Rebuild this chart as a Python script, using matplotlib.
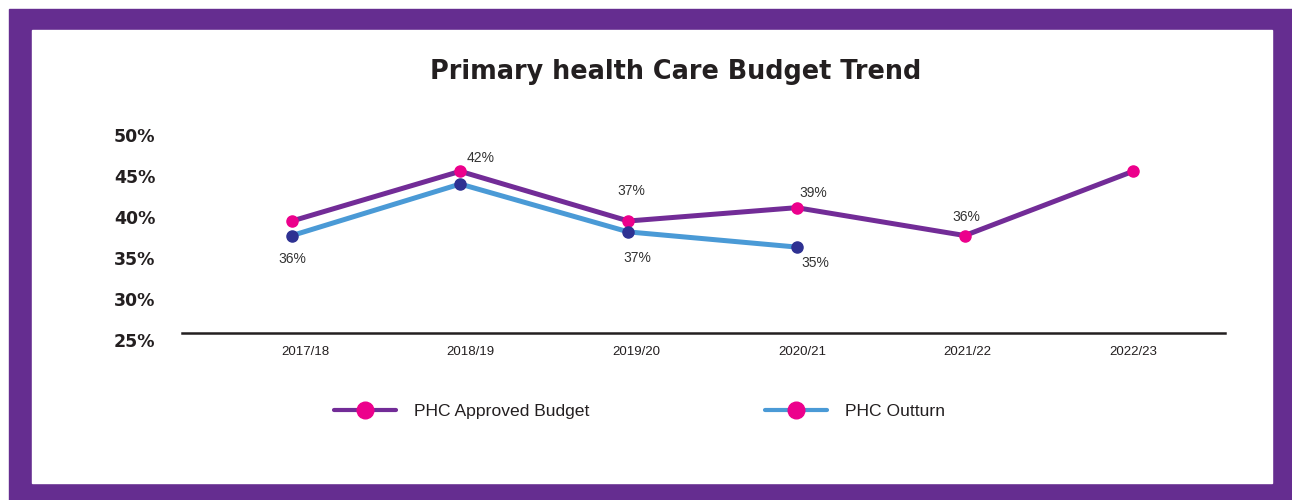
import matplotlib
matplotlib.use("Agg")
import matplotlib.pyplot as plt
from matplotlib.patches import Rectangle
from matplotlib.lines import Line2D

plt.rcParams['font.family'] = ['Liberation Sans', 'DejaVu Sans']

years = ['2017/18', '2018/19', '2019/20', '2020/21', '2021/22', '2022/23']
approved = [37.45, 41.55, 37.45, 38.55, 36.25, 41.55]
outturn = [36.25, 40.5, 36.55, 35.3]
scale_ticks = [25, 30, 35, 40, 45, 50]

# which points carry a value label, and where it sits (pixels offset)
approved_labels = {1: (20, 13), 2: (3, 30), 3: (17, 15), 4: (2, 19)}
outturn_labels = {0: (0, -23), 2: (9, -26), 3: (19, -16)}

PURPLE = '#652d90'
LINE_A = '#722c97'
LINE_O = '#4a9ad6'
PINK = '#ec008c'
NAVY = '#2e3192'
INK = '#231f20'

W, H = 1292, 500
fig = plt.figure(figsize=(W / 100, H / 100), dpi=100)

# frame
fig.patches.append(Rectangle((9 / W, 0), 1 - 9 / W, (H - 9) / H,
                             transform=fig.transFigure, color=PURPLE, zorder=-2))
fig.patches.append(Rectangle((32 / W, (H - 483) / H), (1272 - 32) / W, (483 - 30) / H,
                             transform=fig.transFigure, color='white', zorder=-1))

left, right = 182 / W, 1225 / W
ax = fig.add_axes([left, (H - 332.7) / H, right - left, (332.7 - 120) / H])
ax.patch.set_visible(False)
x = list(range(len(years)))
ax.plot(x, approved, color=LINE_A, lw=3.6, marker='o', ms=8,
        mfc=PINK, mec=PINK, solid_capstyle='round', zorder=3)
ax.plot(x[:len(outturn)], outturn, color=LINE_O, lw=3.6, marker='o', ms=8,
        mfc=NAVY, mec=NAVY, solid_capstyle='round', zorder=3)

for i, (dx, dy) in approved_labels.items():
    ax.annotate(f'{approved[i]:.0f}%', (i, approved[i]), xytext=(dx * 0.72, dy * 0.72),
                textcoords='offset points', ha='center', va='center',
                fontsize=10, color='#333333')
for i, (dx, dy) in outturn_labels.items():
    ax.annotate(f'{outturn[i]:.0f}%', (i, outturn[i]), xytext=(dx * 0.72, dy * 0.72),
                textcoords='offset points', ha='center', va='center',
                fontsize=10, color='#333333')

ax.set_xlim((182 - 292) / 168.2, (1225 - 292) / 168.2)
ax.set_ylim(37.45 - (332.7 - 221) / 12.12, 37.45 + (221 - 120) / 12.12)
ax.set_xticks([])
ax.set_yticks([])
for s in ['top', 'right', 'left']:
    ax.spines[s].set_visible(False)
ax.spines['bottom'].set_color(INK)
ax.spines['bottom'].set_linewidth(1.8)

# percentage scale and year labels
sc = fig.add_axes([left, (H - 340) / H, right - left, (340 - 135) / H])
sc.set_frame_on(False)
sc.patch.set_visible(False)
sc.set_ylim(25, 50)
sc.set_yticks(scale_ticks)
sc.set_yticklabels([f'{t}%' for t in scale_ticks], fontsize=12.5,
                   fontweight='bold', family='DejaVu Sans', color=INK)
sc.tick_params(axis='y', length=0, pad=19)
sc.set_xlim((182 - 305) / 165.7, (1225 - 305) / 165.7)
sc.set_xticks(x)
sc.set_xticklabels(years, fontsize=9.5, color=INK)
sc.tick_params(axis='x', length=0, pad=4)

fig.text(676 / W, (H - 72) / H, 'Primary health Care Budget Trend',
         ha='center', va='center', fontsize=18.4, fontweight='bold',
         family='DejaVu Sans', color=INK)

handles = [
    Line2D([], [], color=LINE_A, lw=3, marker='o', ms=12, mfc=PINK, mec=PINK,
           solid_capstyle='round'),
    Line2D([], [], color=LINE_O, lw=3, marker='o', ms=12, mfc=PINK, mec=PINK,
           solid_capstyle='round'),
]
fig.legend(handles, ['PHC Approved Budget', 'PHC Outturn'], ncol=2,
           loc='center left', bbox_to_anchor=(334 / W, (H - 411) / H),
           frameon=False, fontsize=12.6, handlelength=3.55, handletextpad=1.05,
           columnspacing=10.0, borderpad=0, borderaxespad=0,
           labelcolor=INK)

fig.savefig('out.png', dpi=100)
